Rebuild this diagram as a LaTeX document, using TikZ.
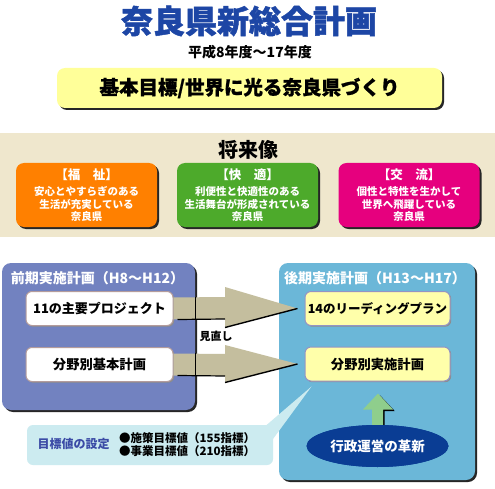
\documentclass[tikz,border=0pt]{standalone}
\usepackage{fontspec}
\setmainfont{Noto Sans CJK JP}
\usetikzlibrary{shadows,shapes.geometric,calc}
\definecolor{titleblue}{HTML}{1D46A5}
\definecolor{topyellow}{HTML}{FFFF99}
\definecolor{beige}{HTML}{EFE7CD}
\definecolor{fworange}{HTML}{FF8000}
\definecolor{fwgreen}{HTML}{4DAA2B}
\definecolor{fwmagenta}{HTML}{E6007E}
\definecolor{leftblue}{HTML}{7282C0}
\definecolor{rightblue}{HTML}{6BB7D8}
\definecolor{tan}{HTML}{C4BE9E}
\definecolor{boxyellow}{HTML}{FFFFAA}
\definecolor{callout}{HTML}{CCEBF0}
\definecolor{ellblue}{HTML}{0A3D94}
\definecolor{upgreen}{HTML}{8FCE8C}
\definecolor{wborder}{HTML}{B49C9C}
\definecolor{yborder}{HTML}{9494C4}
\definecolor{goaltext}{HTML}{3B4BA6}
\tikzset{
  shad/.style={general shadow={shadow xshift=2pt, shadow yshift=-2pt, fill=black!85}},
  lshad/.style={general shadow={shadow xshift=1.2pt, shadow yshift=-1.2pt, fill=black!45}},
  fwbox/.style={rounded corners=8pt, minimum width=141pt, minimum height=64pt, shad},
  fwtext/.style={text=white, align=center, font=\fontsize{10.5}{12.5}\selectfont\bfseries},
  planbox/.style={rounded corners=9pt, shad},
  whitebox/.style={fill=white, draw=wborder, line width=1pt, rounded corners=6pt, minimum width=147pt, minimum height=34pt, lshad},
  yellowbox/.style={fill=boxyellow, draw=yborder, line width=1pt, rounded corners=6pt, minimum width=145pt, minimum height=34pt, lshad},
  bigarrow/.style={fill=tan},
}
\begin{document}
\begin{tikzpicture}[x=1pt,y=-1pt, every node/.style={inner sep=0pt, font=\bfseries}]
\useasboundingbox (0,0) rectangle (495,489);
\fill[white] (0,0) rectangle (495,489);

% title
\node[text=titleblue, font=\fontsize{32}{32}\selectfont\bfseries\addfontfeature{FakeBold=1.5}] (title) at (249,21) {奈良県新総合計画};
\node[font=\fontsize{14}{14}\selectfont\bfseries] (sub) at (250,52) {平成8年度～17年度};
\node[fill=topyellow, rounded corners=8pt, minimum width=385pt, minimum height=40pt, shad,
      font=\fontsize{19.5}{19.5}\selectfont\bfseries\addfontfeature{FakeBold=1}] (goal) at (249.5,88) {基本目標/世界に光る奈良県づくり};

% future band
\fill[beige] (0,133) rectangle (495,237);
\node[font=\fontsize{20}{20}\selectfont\bfseries] (future) at (248,150) {将来像};
\node[fwbox, fill=fworange] (fw1) at (86.5,195) {};
\node[fwbox, fill=fwgreen] (fw2) at (247.5,195) {};
\node[fwbox, fill=fwmagenta] (fw3) at (409,195) {};
\node[fwtext] at (fw1.center) {{\fontsize{12.5}{12.5}\selectfont 【福　祉】}\\[4pt]安心とやすらぎのある\\生活が充実している\\奈良県};
\node[fwtext] at (fw2.center) {{\fontsize{12.5}{12.5}\selectfont 【快　適】}\\[4pt]利便性と快適性のある\\生活舞台が形成されている\\奈良県};
\node[fwtext] at (fw3.center) {{\fontsize{12.5}{12.5}\selectfont 【交　流】}\\[4pt]個性と特性を生かして\\世界へ飛躍している\\奈良県};

% plan boxes
\node[planbox, fill=leftblue, minimum width=193pt, minimum height=147pt] (lb) at (98.5,336.5) {};
\node[planbox, fill=rightblue, minimum width=196pt, minimum height=217pt] (rb) at (377,371.5) {};
\node[text=white, font=\fontsize{14}{14}\selectfont\bfseries] (lh) at (97.5,278) {前期実施計画（H8～H12）};
\node[text=white, font=\fontsize{14}{14}\selectfont\bfseries] (rh) at (375,278) {後期実施計画（H13～H17）};

\node[whitebox, font=\fontsize{13}{13}\selectfont\bfseries] (l1) at (99.5,308.5) {11の主要プロジェクト};
\node[whitebox, font=\fontsize{13.3}{13.3}\selectfont\bfseries] (l2) at (99.5,364.5) {分野別基本計画};
\node[yellowbox, font=\fontsize{12.5}{12.5}\selectfont\bfseries] (r1) at (377.5,308.5) {14のリーディングプラン};
\node[yellowbox, font=\fontsize{13.3}{13.3}\selectfont\bfseries] (r2) at (377.5,364) {分野別実施計画};

% big arrows
\coordinate (a1s) at ($(l1.east)+(0,0)$);
\coordinate (a1t) at ($(r1.west)+(-7,0)$);
\fill[bigarrow] ($(a1s)+(0,-11)$) -- (225,297) -- (225,287) -- (a1t) -- (225,327) -- (225,319) -- ($(a1s)+(0,11)$) -- cycle;
\draw[line width=1.2pt] ($(a1s)+(4,11)$) -- (225,319);
\draw[line width=1.4pt] (225,327.5) -- (a1t);
\coordinate (a2s) at ($(l2.east)+(0,0)$);
\coordinate (a2t) at ($(r2.west)+(-7,0)$);
\fill[bigarrow] ($(a2s)+(0,-11)$) -- (225,354) -- (225,345) -- (a2t) -- (225,382) -- (225,376) -- ($(a2s)+(0,11)$) -- cycle;
\draw[line width=1.2pt] ($(a2s)+(4,11)$) -- (225,376);
\draw[line width=1.4pt] (225,382.5) -- (a2t);
\draw[line width=1.5pt] (195.5,297) -- (195.5,319) (195.5,353) -- (195.5,376);
\node[font=\fontsize{11}{11}\selectfont\bfseries] (rev) at (216,336) {見直し};

% callout
\fill[callout] (266,425.5) -- ($(r2.south west)+(7,5)$) -- (273,439) -- cycle;
\fill[callout, rounded corners=6pt] (27,425) rectangle (273,465);
\node[text=goaltext, font=\fontsize{12}{12}\selectfont\bfseries] (goalset) at (73.5,444) {目標値の設定};
\node[anchor=west, align=left, font=\fontsize{11.5}{13}\selectfont\bfseries] (bullets) at (119,444.5) {●施策目標値（155指標）\\●事業目標値（210指標）};

% green up arrow and ellipse
\node[ellipse, fill=ellblue, minimum width=142pt, minimum height=42pt, text=white,
      font=\fontsize{13.5}{13.5}\selectfont\bfseries] (reform) at (377.5,446) {};
\fill[black] ($(r2.south)+(2.2,13.5)$) -- ($(r2.south)+(17.2,29.5)$) -- ($(r2.south)+(7.2,29.5)$) -- ($(r2.south)+(7.2,60)$) -- ($(r2.south)+(-3.8,60)$) -- cycle;
\fill[upgreen] ($(r2.south)+(0.5,12)$) -- ($(r2.south)+(15.5,28)$) -- ($(r2.south)+(5.5,28)$) -- ($(r2.south)+(5.5,61)$) -- ($(r2.south)+(-5.5,61)$) -- ($(r2.south)+(-5.5,28)$) -- ($(r2.south)+(-14.5,28)$) -- cycle;
\node[ellipse, fill=ellblue, minimum width=142pt, minimum height=42pt, text=white,
      font=\fontsize{13.5}{13.5}\selectfont\bfseries] at (reform.center) {行政運営の革新};
\end{tikzpicture}
\end{document}
